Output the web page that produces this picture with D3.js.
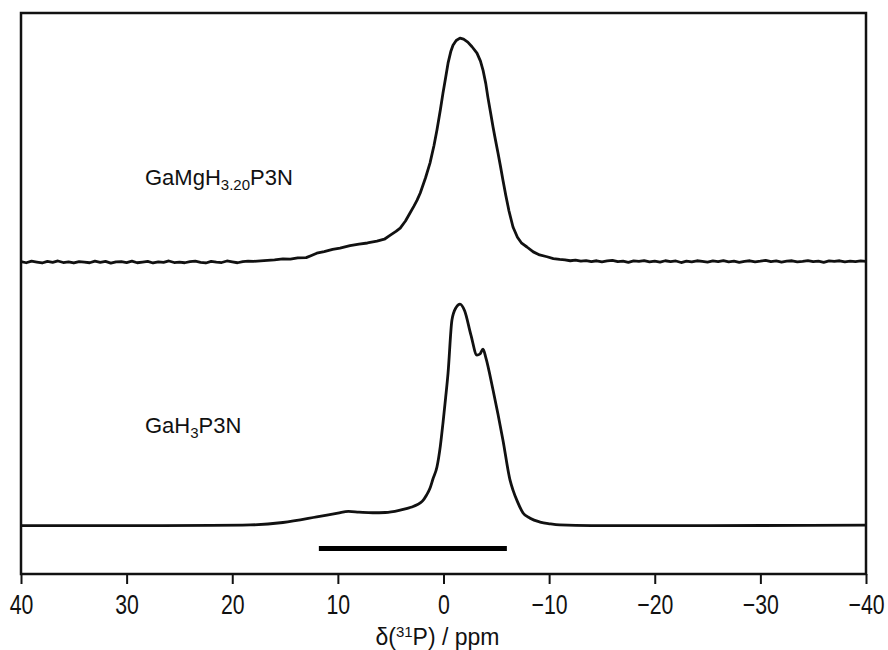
<!DOCTYPE html>
<html>
<head>
<meta charset="utf-8">
<script src="https://cdn.jsdelivr.net/npm/d3@7"></script>
<style>
  html, body { margin: 0; padding: 0; background: #fff; }
  svg { display: block; }
  text { font-family: "Liberation Sans", Arial, Helvetica, sans-serif; fill: #111; }
</style>
</head>
<body>
<svg id="chart" width="888" height="650"></svg>
<script>
// ---- data ----
const tickValues = [40, 30, 20, 10, 0, -10, -20, -30, -40];
const seriesNames = ["GaMgH3.20P3N", "GaH3P3N"];

// top spectrum (GaMgH3.20P3N): chemical shift (ppm) and normalised intensity
const topShift = [
  40, 39.5, 39, 38.5, 38, 37.5, 37, 36.5, 36, 35.5, 35, 34.5, 34, 33.5, 33, 32.5, 32, 31.5, 31, 30.5,
  30, 29.5, 29, 28.5, 28, 27.5, 27, 26.5, 26, 25.5, 25, 24.5, 24, 23.5, 23, 22.5, 22, 21.5, 21, 20.5,
  20, 19.5, 19, 18.5,
  18, 17, 16, 15.2, 14.5, 13.8, 13, 12.5, 12, 11.3, 10.5, 9.8, 8.85, 8, 7.2, 6.3, 5.6, 5.07, 4.5, 4.1,
  3.6, 3.17, 2.8, 2.5, 2.2, 1.7, 1.28, 0.9, 0.62, 0.3, 0.05, -0.2, -0.43, -0.7, -0.9, -1.2, -1.56, -1.9,
  -2.3, -2.7, -3.17, -3.5, -3.74, -4, -4.2, -4.45, -4.69, -4.9, -5.16, -5.4, -5.63, -5.9, -6.2, -6.58,
  -7, -7.4, -7.9, -8.5, -9.1, -9.8, -10.4, -11,
  -11.5, -12, -12.5, -13, -13.5, -14, -14.5, -15, -15.5, -16, -16.5, -17, -17.5, -18, -18.5, -19, -19.5,
  -20, -20.5, -21, -21.5, -22, -22.5, -23, -23.5, -24, -24.5, -25, -25.5, -26, -26.5, -27, -27.5, -28,
  -28.5, -29, -29.5, -30, -30.5, -31, -31.5, -32, -32.5, -33, -33.5, -34, -34.5, -35, -35.5, -36, -36.5,
  -37, -37.5, -38, -38.5, -39, -39.5, -40
];
const topIntensity = [
  0.002, -0.003, 0.004, 0.000, -0.004, 0.003, -0.001, 0.005, -0.002, 0.001, -0.004, 0.002, 0.000, -0.003, 0.004, -0.001, 0.003, -0.005, 0.001, 0.002,
  -0.002, 0.004, -0.003, 0.000, 0.003, -0.004, 0.001, -0.001, 0.005, -0.002, 0.000, -0.003, 0.002, 0.004, -0.001, -0.004, 0.003, 0.000, -0.002, 0.005,
  0.001, -0.003, 0.002, 0.004,
  0.003, 0.007, 0.010, 0.014, 0.013, 0.019, 0.020, 0.030, 0.040, 0.047, 0.057, 0.063, 0.074, 0.081, 0.086, 0.094, 0.103, 0.120, 0.138, 0.153,
  0.185, 0.221, 0.252, 0.279, 0.311, 0.380, 0.446, 0.525, 0.595, 0.685, 0.761, 0.830, 0.896, 0.950, 0.977, 0.998, 1.009, 1.004,
  0.991, 0.970, 0.941, 0.905, 0.865, 0.805, 0.743, 0.675, 0.608, 0.555, 0.491, 0.430, 0.369, 0.300, 0.230, 0.158,
  0.112, 0.085, 0.068, 0.046, 0.032, 0.024, 0.016, 0.012,
  0.010, 0.006, 0.009, 0.004, 0.007, 0.002, 0.006, 0.001, 0.005, 0.008, 0.002, 0.004, -0.001, 0.005, 0.003, 0.007, 0.001,
  0.004, 0.000, 0.006, 0.002, 0.005, -0.002, 0.004, 0.001, 0.006, 0.003, 0.000, 0.005, 0.002, 0.007, 0.001, 0.004, -0.001,
  0.003, 0.006, 0.001, 0.004, 0.008, 0.002, 0.005, 0.000, 0.004, 0.006, 0.001, 0.003, 0.007, 0.002, 0.004, -0.001, 0.005,
  0.003, 0.006, 0.001, 0.004, 0.002, 0.005, 0.003
];

// bottom spectrum (GaH3P3N)
const bottomShift = [
  40, 30, 22, 18.3, 15.2, 12, 10, 9, 8, 6.7, 5.5, 4.1, 3, 2.5, 2.0, 1.6, 1.28, 1.0, 0.62, 0.3, 0.05, -0.2, -0.43, -0.8,
  -1.2, -1.56, -2, -2.6, -3.17, -3.45, -3.74, -4, -4.69, -5.63, -6.3, -6.58, -7, -7.53, -8.2, -9.14,
  -10.08, -11, -14, -25, -40
];
const bottomIntensity = [
  0.002, 0.002, 0.003, 0.005, 0.016, 0.041, 0.058, 0.066, 0.063, 0.060, 0.061, 0.072, 0.086, 0.096, 0.112, 0.140, 0.170, 0.212, 0.266, 0.360, 0.464, 0.577, 0.689, 0.928,
  0.985, 1.000, 0.970, 0.860, 0.770, 0.775, 0.797, 0.760, 0.613, 0.387, 0.207, 0.162, 0.110, 0.059, 0.035, 0.018,
  0.010, 0.005, 0.002, 0.002, 0.004
];

// scale bar (ppm range)
const barRange = [11.8, -6.0];

// ---- layout ----
const svg = d3.select("#chart");
const L = 21, R = 866, T = 13, B = 574;
const x = d3.scaleLinear().domain([40, -40]).range([L, R]);
const y = d3.scaleLinear().domain([-0.216, 2.311]).range([B, T]);
const topOffset = 1.189;
const barLevel = -0.101;

// frame
svg.append("rect")
  .attr("x", L).attr("y", T).attr("width", R - L).attr("height", B - T)
  .attr("fill", "none").attr("stroke", "#111").attr("stroke-width", 2.5);

// x axis
const axis = d3.axisBottom(x)
  .tickValues(tickValues)
  .tickSize(10)
  .tickFormat(d => d < 0 ? "\u2212" + Math.abs(d) : String(d));
const gx = svg.append("g").attr("transform", `translate(0,${B})`).call(axis);
gx.select(".domain").remove();
gx.selectAll(".tick line").attr("stroke", "#111").attr("stroke-width", 2);
gx.selectAll(".tick text")
  .attr("y", 40).attr("dy", 0)
  .attr("font-size", 28)
  .attr("fill", "#222")
  .attr("transform", "scale(0.76,1)")
  .style("font-family", "'Liberation Sans', Arial, sans-serif");

// axis title
const title = svg.append("text")
  .attr("x", 437.5).attr("y", 645)
  .attr("text-anchor", "middle")
  .attr("font-size", 23);
title.append("tspan").text("\u03b4(");
title.append("tspan").attr("font-size", 15).attr("dy", -8).text("31");
title.append("tspan").attr("dy", 8).text("P) / ppm");

// spectra
const topData = topShift.map((s, i) => [s, topIntensity[i] + topOffset]);
const bottomData = bottomShift.map((s, i) => [s, bottomIntensity[i]]);

svg.append("path")
  .attr("d", d3.line().x(d => x(d[0])).y(d => y(d[1])).curve(d3.curveLinear)(topData))
  .attr("fill", "none").attr("stroke", "#111").attr("stroke-width", 2.8)
  .attr("stroke-linejoin", "round");

svg.append("path")
  .attr("d", d3.line().x(d => x(d[0])).y(d => y(d[1])).curve(d3.curveMonotoneX)(bottomData))
  .attr("fill", "none").attr("stroke", "#111").attr("stroke-width", 2.8)
  .attr("stroke-linejoin", "round");

// scale bar
svg.append("line")
  .attr("x1", x(barRange[0])).attr("x2", x(barRange[1]))
  .attr("y1", y(barLevel)).attr("y2", y(barLevel))
  .attr("stroke", "#000").attr("stroke-width", 5);

// labels
const lab1 = svg.append("text").attr("x", 145).attr("y", 185).attr("font-size", 22);
lab1.append("tspan").text("GaMgH");
lab1.append("tspan").attr("font-size", 15).attr("dy", 5).text("3.20");
lab1.append("tspan").attr("dy", -5).text("P3N");

const lab2 = svg.append("text").attr("x", 145).attr("y", 433).attr("font-size", 22);
lab2.append("tspan").text("GaH");
lab2.append("tspan").attr("font-size", 15).attr("dy", 5).text("3");
lab2.append("tspan").attr("dy", -5).text("P3N");
</script>
</body>
</html>
